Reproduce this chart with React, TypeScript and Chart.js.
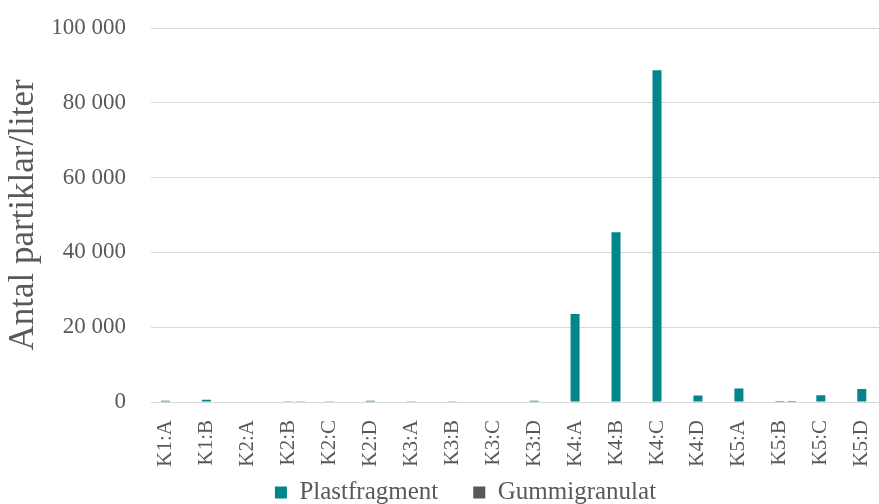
import React, { useEffect, useRef } from "react";
import { Chart, registerables } from "chart.js";

Chart.register(...registerables);

const categories = [
  "K1:A", "K1:B", "K2:A", "K2:B", "K2:C", "K2:D", "K3:A", "K3:B", "K3:C",
  "K3:D", "K4:A", "K4:B", "K4:C", "K4:D", "K5:A", "K5:B", "K5:C", "K5:D",
];
const plastfragment = [350, 600, 0, 50, 50, 350, 50, 50, 150, 350, 23500, 45400, 88700, 1750, 3600, 300, 1800, 3500];
const gummigranulat = [0, 0, 0, 50, 0, 0, 0, 0, 0, 0, 0, 0, 0, 0, 0, 300, 0, 0];
const yTicks = [0, 20000, 40000, 60000, 80000, 100000];
const seriesNames = ["Plastfragment", "Gummigranulat"];
const yTitle = "Antal partiklar/liter";

const FONT = "'Liberation Serif', 'Times New Roman', serif";
const TEXT = "#595959";

const fmt = (v: number) => String(v).replace(/\B(?=(\d{3})+(?!\d))/g, " ");

export default function App() {
  const ref = useRef<HTMLCanvasElement | null>(null);
  useEffect(() => {
    document.body.style.margin = "0";
    document.body.style.overflow = "hidden";
    if (!ref.current) return;
    const shiftLegend = {
      id: "shiftLegend",
      afterLayout(chart: any) {
        const l = chart.legend;
        if (l) {
          l.left += 10;
          l.right += 10;
          l.top -= 24;
          l.bottom -= 24;
        }
      },
    };
    const chart = new Chart(ref.current, {
      type: "bar",
      data: {
        labels: categories,
        datasets: [
          {
            label: seriesNames[0],
            data: plastfragment,
            backgroundColor: "#00868B",
            borderWidth: 0,
            categoryPercentage: 0.587,
            barPercentage: 0.75,
          },
          {
            label: seriesNames[1],
            data: gummigranulat,
            backgroundColor: "#595959",
            borderWidth: 0,
            categoryPercentage: 0.587,
            barPercentage: 0.75,
          },
        ],
      },
      options: {
        animation: false,
        responsive: true,
        maintainAspectRatio: false,
        layout: { padding: { top: 28, left: 0, right: 0, bottom: 0 } },
        plugins: {
          tooltip: { enabled: false },
          legend: {
            position: "bottom",
            labels: {
              font: { family: FONT, size: 25 },
              color: TEXT,
              boxWidth: 12,
              boxHeight: 12,
              padding: 35,
            },
          },
        },
        scales: {
          x: {
            grid: { display: false, drawTicks: false },
            border: { display: true, color: "#d9d9d9" },
            ticks: {
              autoSkip: false,
              maxRotation: 90,
              minRotation: 90,
              padding: 18,
              labelOffset: -6,
              font: { family: FONT, size: 21 },
              color: TEXT,
            },
            afterFit(scale: any) {
              scale.height = 67;
            },
          },
          y: {
            min: 0,
            max: 100000,
            afterBuildTicks(scale: any) {
              scale.ticks = yTicks.map((v) => ({ value: v }));
            },
            grid: {
              color: "#d9d9d9",
              lineWidth: 1,
              drawTicks: true,
              tickLength: 22,
              tickColor: "rgba(0,0,0,0)",
            },
            border: { display: false },
            ticks: {
              padding: 3,
              font: { family: FONT, size: 23 },
              color: TEXT,
              callback: (v: any) => fmt(Number(v)),
            },
            title: {
              display: true,
              text: yTitle,
              font: { family: FONT, size: 35 },
              color: TEXT,
              padding: { top: 3, bottom: 0 },
            },
            afterFit(scale: any) {
              scale.width = 151;
            },
          },
        },
      },
      plugins: [shiftLegend],
    });
    return () => chart.destroy();
  }, []);
  return (
    <div style={{ width: 879, height: 504, overflow: "hidden", position: "relative" }}>
      <div style={{ width: 911, height: 539, position: "absolute", left: 0, top: 0 }}>
        <canvas ref={ref} />
      </div>
    </div>
  );
}
